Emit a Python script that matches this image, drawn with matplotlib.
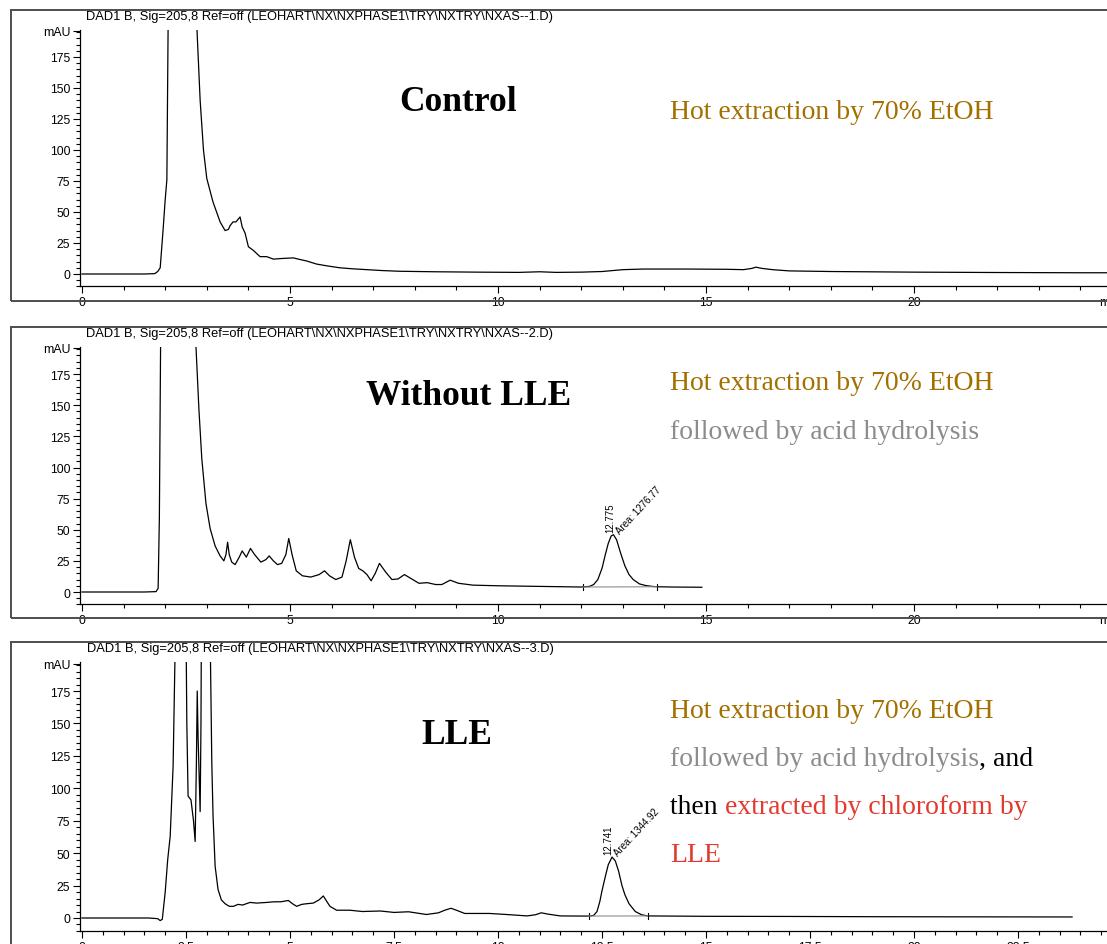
import matplotlib.pyplot as plt
from matplotlib.ticker import MultipleLocator
from matplotlib.patches import Rectangle

W, H = 1107, 945

# Control: hot extraction only
t_control = [0, 1.5, 1.75, 1.82, 1.88, 1.95, 2.0, 2.04, 2.07, 2.15, 2.3, 2.5, 2.65, 2.76, 2.84, 2.92,
             3.0, 3.15, 3.32, 3.44, 3.52, 3.56, 3.63, 3.7, 3.75, 3.8, 3.85, 3.92, 4.0, 4.12, 4.28,
             4.44, 4.6, 4.8, 5.08, 5.2, 5.4, 5.64, 5.9, 6.2, 6.5, 6.85, 7.2, 7.64, 8.5, 9.5, 10.5,
             11.0, 11.4, 12.0, 12.5, 13.0, 13.5, 14.5, 15.5, 15.9, 16.1, 16.2, 16.35, 16.6, 17.0,
             18.0, 20.0, 22.0, 24.0, 26.0]
v_control = [0, 0, 0.3, 2, 5, 36, 60, 76, 200, 400, 600, 700, 450, 200, 140, 100,
             77, 58, 42, 35, 36, 39, 42, 42, 44, 46, 38, 33, 22, 19, 14,
             14, 12, 12.5, 13, 12, 10.5, 8, 6.5, 5, 4.2, 3.5, 2.8, 2.2, 1.8, 1.5, 1.3,
             1.8, 1.3, 1.5, 2, 3.5, 4, 4, 3.8, 3.5, 4.5, 5.5, 4.5, 3.5, 2.5,
             2, 1.5, 1.2, 1.0, 1.0]

# Without LLE: hot extraction + acid hydrolysis
t_nolle = [0, 1.5, 1.78, 1.83, 1.86, 1.9, 2.0, 2.3, 2.5, 2.65, 2.74, 2.81, 2.88, 2.98, 3.08, 3.2,
           3.32, 3.41, 3.46, 3.5, 3.54, 3.6, 3.68, 3.78, 3.85, 3.95, 4.05, 4.15, 4.3, 4.42, 4.5,
           4.6, 4.7, 4.8, 4.9, 4.97, 5.05, 5.15, 5.3, 5.5, 5.7, 5.83, 5.95, 6.1, 6.25, 6.35, 6.45,
           6.55, 6.65, 6.75, 6.85, 6.95, 7.05, 7.15, 7.3, 7.45, 7.6, 7.75, 7.9, 8.1, 8.3, 8.5,
           8.65, 8.85, 9.05, 9.4, 10.0, 11.0, 12.0, 12.2, 12.3, 12.4, 12.5, 12.58, 12.65, 12.72,
           12.775, 12.85, 12.95, 13.05, 13.15, 13.25, 13.4, 13.55, 13.7, 13.85, 14.2, 14.9]
v_nolle = [0, 0, 0.3, 3, 60, 250, 500, 650, 700, 400, 197, 147, 107, 71, 51, 37,
           29, 25, 30, 40, 30, 24, 22, 28, 33, 28, 35, 30, 24, 26, 29,
           25, 22, 23, 30, 43, 30, 17, 13, 12, 14, 17, 13, 10, 12, 25, 42,
           28, 19, 17, 14, 9, 15, 23, 16, 10, 10.5, 14, 11, 7, 7.5, 6,
           6, 9.5, 7, 5.5, 5, 4.5, 4, 4.5, 6, 10, 19, 30, 39, 45,
           46, 42, 31, 21, 14, 10, 6.5, 5.2, 4.5, 4.2, 4, 3.8]

# LLE: + chloroform extraction
t_lle = [0, 1.6, 1.82, 1.88, 1.93, 2.0, 2.06, 2.12, 2.19, 2.24, 2.3, 2.38, 2.48, 2.52, 2.55,
         2.62, 2.68, 2.72, 2.75, 2.77, 2.79, 2.84, 2.86, 2.88, 2.95, 3.03, 3.08, 3.12, 3.15,
         3.2, 3.27, 3.35, 3.44, 3.54, 3.64, 3.75, 3.86, 3.95, 4.04, 4.2, 4.44, 4.62, 4.78,
         4.96, 5.06, 5.16, 5.28, 5.4, 5.56, 5.7, 5.8, 5.88, 5.96, 6.12, 6.44, 6.74, 7.17, 7.5,
         7.85, 8.28, 8.57, 8.72, 8.87, 9.0, 9.2, 9.8, 10.3, 10.7, 10.9, 11.04, 11.2, 11.5,
         12.0, 12.2, 12.3, 12.38, 12.45, 12.5, 12.58, 12.65, 12.741, 12.82, 12.9, 12.98, 13.05,
         13.15, 13.3, 13.45, 13.6, 15.0, 17.0, 19.0, 21.0, 23.8]
v_lle = [0, 0, -0.5, -2, -1, 20, 45, 63, 117, 210, 500, 600, 300, 150, 94,
         91, 75, 59, 120, 175, 140, 82, 150, 300, 600, 500, 220, 120, 79,
         40, 22, 14, 11, 9, 9, 10.5, 10, 11, 12, 11.5, 12, 12.5, 12.5,
         13.5, 11, 9, 10.5, 11, 11.5, 14, 17, 13, 9, 6, 6, 5, 5.4, 4.3,
         4.8, 2.7, 4, 6, 7.5, 6, 3.5, 3.5, 2.5, 1.6, 2.5, 4, 3, 1.6,
         1.5, 1.5, 2, 5, 13, 21, 32, 41, 47, 44, 36, 25, 18,
         11, 5, 2.5, 1.6, 1.3, 1.2, 1.0, 0.9, 0.8]

# integration start/end markers and peak info
marks_nolle = [12.04, 13.82]
marks_lle = [12.19, 13.6]
peak_nolle = (12.775, 46, "12.775", "Area: 1276.77")
peak_lle = (12.741, 47, "12.741", "Area: 1344.92")

titles = [r"DAD1 B, Sig=205,8 Ref=off (LEOHART\NX\NXPHASE1\TRY\NXTRY\NXAS--1.D)",
          r"DAD1 B, Sig=205,8 Ref=off (LEOHART\NX\NXPHASE1\TRY\NXTRY\NXAS--2.D)",
          r"DAD1 B, Sig=205,8 Ref=off (LEOHART\NX\NXPHASE1\TRY\NXTRY\NXAS--3.D)"]

gold = "#A37000"
gray = "#8C8C8C"
red = "#E23A2E"

fig = plt.figure(figsize=(W / 100, H / 100), dpi=100)
sans = "Liberation Sans"
serif = "Liberation Serif"


def panel(box_top, box_bottom, y0, s, title, major, minor):
    fig.add_artist(Rectangle((11 / W, 1 - box_bottom / H), 1300 / W, (box_bottom - box_top) / H,
                             transform=fig.transFigure, fill=False, ec="#4d4d4d", lw=1.4))
    bottom = y0 + 10 * s
    top = y0 - 197 * s
    ax = fig.add_axes([80 / W, 1 - bottom / H, 1050 / W, (bottom - top) / H])
    ax.set_xlim(-2 / 41.6, 1048 / 41.6)
    ax.set_ylim(-10, 197)
    for side in ["top", "right"]:
        ax.spines[side].set_visible(False)
    for side in ["left", "bottom"]:
        ax.spines[side].set_linewidth(0.9)
    xt = [i * major for i in range(int(23 / major) + 1)]
    ax.set_xticks(xt)
    ax.set_xticklabels([("%g" % v) for v in xt])
    ax.xaxis.set_minor_locator(MultipleLocator(minor))
    ax.set_yticks([0, 25, 50, 75, 100, 125, 150, 175, 196])
    ax.set_yticklabels(["0", "25", "50", "75", "100", "125", "150", "175", "mAU"])
    ax.yaxis.set_minor_locator(MultipleLocator(5))
    ax.tick_params(which="major", length=5, width=0.8, labelsize=8.8, pad=2)
    ax.tick_params(which="minor", length=3, width=0.8)
    for lab in ax.get_xticklabels() + ax.get_yticklabels():
        lab.set_family(sans)
    ax.annotate("min", xy=(24.45, 0), xycoords=("data", "axes fraction"), xytext=(0, -7),
                textcoords="offset points", ha="left", va="top", fontsize=8.8, family=sans)
    fig.text(320 / W, 1 - (box_top + 6) / H, title, ha="center", va="center", fontsize=9.3, family=sans)
    return ax


def pieces(x, y, parts, size=20):
    r = fig.canvas.get_renderer()
    xf = x / W
    for txt, col in parts:
        t = fig.text(xf, 1 - (y + 2.5) / H, txt, color=col, fontsize=size, family=serif,
                     ha="left", va="center")
        bb = t.get_window_extent(renderer=r)
        xf = bb.x1 / W


def peak_labels(ax, pk, marks, trace_t, trace_v):
    tr, v, rt, area = pk
    ax.text(tr - 0.08, v + 2, rt, rotation=90, rotation_mode="anchor", ha="left", va="center",
            fontsize=7, family=sans)
    ax.text(tr + 0.1, v + 2, area, rotation=47, rotation_mode="anchor", ha="left", va="center",
            fontsize=7, family=sans)
    for m in marks:
        # baseline level at marker from the nearest trace point
        i = min(range(len(trace_t)), key=lambda k: abs(trace_t[k] - m))
        ax.plot([m, m], [trace_v[i] - 2.5, trace_v[i] + 2.5], color="black", lw=0.8)
    i0 = min(range(len(trace_t)), key=lambda k: abs(trace_t[k] - marks[0]))
    i1 = min(range(len(trace_t)), key=lambda k: abs(trace_t[k] - marks[1]))
    ax.plot(marks, [trace_v[i0], trace_v[i1]], color=gray, lw=0.8)


ax1 = panel(11, 302, 275, 1.24, titles[0], 5, 1)
ax1.plot(t_control, v_control, color="black", lw=0.9)
ax1.text(9.05, 139, "Control", ha="center", va="center", fontsize=25.5,
         fontweight="bold", family=serif)

ax2 = panel(328, 619, 593, 1.245, titles[1], 5, 1)
ax2.plot(t_nolle, v_nolle, color="black", lw=0.9)
ax2.text(9.3, 158, "Without LLE", ha="center", va="center", fontsize=25.5,
         fontweight="bold", family=serif)
peak_labels(ax2, peak_nolle, marks_nolle, t_nolle, v_nolle)

ax3 = panel(643, 990, 919, 1.297, titles[2], 2.5, 0.5)
ax3.plot(t_lle, v_lle, color="black", lw=0.9)
ax3.text(9.0, 141.5, "LLE", ha="center", va="center", fontsize=25.5,
         fontweight="bold", family=serif)
peak_labels(ax3, peak_lle, marks_lle, t_lle, v_lle)

pieces(670, 110, [("Hot extraction by 70% EtOH", gold)])
pieces(670, 381, [("Hot extraction by 70% EtOH", gold)])
pieces(670, 430, [("followed by acid hydrolysis", gray)])
pieces(670, 709, [("Hot extraction by 70% EtOH", gold)])
pieces(670, 757, [("followed by acid hydrolysis", gray), (", and", "black")])
pieces(670, 805, [("then ", "black"), ("extracted by chloroform by", red)])
pieces(670, 853, [("LLE", red)])

fig.savefig("out.png", dpi=100)
